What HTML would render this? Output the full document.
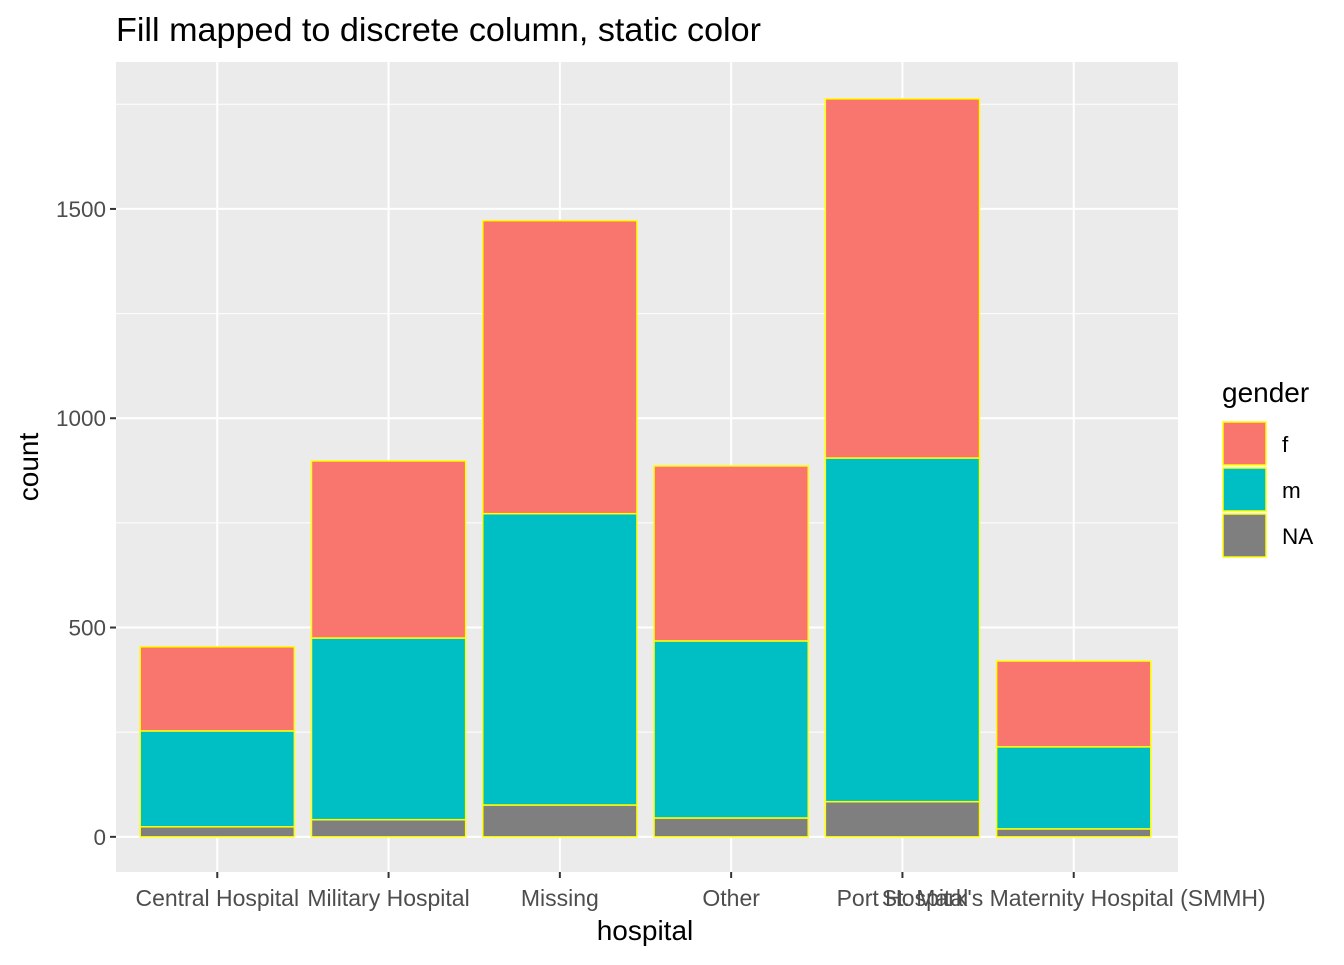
<!DOCTYPE html>
<html><head><meta charset="utf-8"><style>
body{margin:0;background:#fff;font-family:"Liberation Sans",Arial,sans-serif}
</style></head><body>
<svg id="chart" width="1344" height="960" xmlns="http://www.w3.org/2000/svg" font-family="Liberation Sans, Arial, sans-serif"></svg>
<script>
const categories=["Central Hospital","Military Hospital","Missing","Other","Port Hospital","St. Mark's Maternity Hospital (SMMH)"];
const naVals=[24,41,76,45,84,19];
const mVals=[229,434,696,423,821,196];
const fVals=[201,423,700,418,858,205];
const yTicks=[0,500,1000,1500];
const seriesNames=["f","m","NA"];
const colors={f:"#F8766D",m:"#00BFC4",NA:"#7F7F7F"};

const svg=document.getElementById('chart');
const NS="http://www.w3.org/2000/svg";
const L=116,R=1178,T=62,B=872;
const yMin=-84,yMax=1851;
const y=v=>B-(v-yMin)/(yMax-yMin)*(B-T);
const step=(R-L)/(categories.length+0.2);
const xc=i=>L-1.5+step*(0.6+i);
const bw=step*0.9;
function mk(tag,attrs,parent){const e=document.createElementNS(NS,tag);for(const k in attrs)e.setAttribute(k,attrs[k]);(parent||svg).appendChild(e);return e;}

const title=mk('text',{x:116,y:41,'font-size':33,fill:'#000',textLength:645,lengthAdjust:'spacingAndGlyphs'});


title.textContent="Fill mapped to discrete column, static color";

const panel=mk('rect',{x:L,y:T,width:R-L,height:B-T,fill:'#EBEBEB'});


for(let i=0;i<yTicks.length-1;i++){const mv=(yTicks[i]+yTicks[i+1])/2;mk('line',{x1:L,x2:R,y1:y(mv),y2:y(mv),stroke:'#fff','stroke-width':1});}
mk('line',{x1:L,x2:R,y1:y(1750),y2:y(1750),stroke:'#fff','stroke-width':1});
yTicks.forEach(t=>{
  mk('line',{x1:L,x2:R,y1:y(t),y2:y(t),stroke:'#fff','stroke-width':2});
  mk('line',{x1:L-6,x2:L,y1:y(t),y2:y(t),stroke:'#333','stroke-width':2});
  const tl=mk('text',{x:L-10,y:y(t)+8,'font-size':22.5,fill:'#4D4D4D','text-anchor':'end'});
  
  
  tl.textContent=t;
});
categories.forEach((c,i)=>{
  mk('line',{x1:xc(i),x2:xc(i),y1:T,y2:B,stroke:'#fff','stroke-width':2});
  mk('line',{x1:xc(i),x2:xc(i),y1:B,y2:B+6,stroke:'#333','stroke-width':2});
  const tl=mk('text',{x:xc(i),y:B+34,'font-size':23,fill:'#4D4D4D','text-anchor':'middle'});
  
  
  tl.textContent=c;
});
categories.forEach((c,i)=>{
  let base=0;
  [["NA",naVals[i]],["m",mVals[i]],["f",fVals[i]]].forEach(([s,v])=>{
    const r=mk('rect',{x:xc(i)-bw/2,y:y(base+v),width:bw,height:y(base)-y(base+v),fill:colors[s],stroke:'#FFFF00','stroke-width':1.5});
    
    
    base+=v;
  });
});
const xt=mk('text',{x:(L+R)/2-2,y:940,'font-size':28,fill:'#000','text-anchor':'middle'});


xt.textContent="hospital";
const yt=mk('text',{x:0,y:0,'font-size':28,fill:'#000','text-anchor':'middle',transform:'translate(38,467) rotate(-90)'});


yt.textContent="count";
const lt=mk('text',{x:1222,y:402,'font-size':28,fill:'#000'});


lt.textContent="gender";
seriesNames.forEach((s,k)=>{
  const g=mk('g',{});
  
  
  mk('rect',{x:1223,y:422+k*46,width:43,height:43,fill:colors[s],stroke:'#FFFF00','stroke-width':1.5},g);
  const t=mk('text',{x:1282,y:452+k*46,'font-size':22.5,fill:'#000'},g);
  t.textContent=s;
});
</script>
</body></html>
